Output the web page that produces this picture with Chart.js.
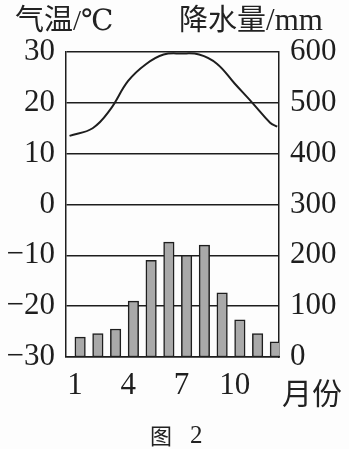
<!DOCTYPE html>
<html>
<head>
<meta charset="utf-8">
<script src="https://cdn.jsdelivr.net/npm/chart.js@4.4.1/dist/chart.umd.min.js"></script>
<style>
  html, body { margin: 0; padding: 0; background: #fdfdfd; }
  #wrap { position: relative; width: 349px; height: 449px; overflow: hidden; }
  canvas { position: absolute; left: 0; top: 0; }
  .lbl { position: absolute; color: #222; white-space: nowrap; line-height: 1; }
  .cjk { font-family: "Noto Sans CJK SC", sans-serif; }
  .ser { font-family: "Liberation Serif", "DejaVu Serif", serif; }
</style>
</head>
<body>
<div id="wrap">
  <canvas id="climateChart" width="349" height="449"></canvas>
  <div class="lbl" style="left:15px; top:3px; font-size:29px;"><span class="cjk">气温</span><span class="ser">/℃</span></div>
  <div class="lbl" style="left:179px; top:3px; font-size:29px;"><span class="cjk">降水量</span><span class="ser" style="font-size:31px;">/mm</span></div>
  <div class="lbl cjk" style="left:282px; top:376px; font-size:30px;">月份</div>
  <div class="lbl cjk" style="left:150px; top:423px; font-size:22px;">图</div>
  <div class="lbl ser" style="left:190px; top:422px; font-size:25px;">2</div>
</div>
<script>
// =========================
// Data
// =========================
const months = ['1', '2', '3', '4', '5', '6', '7', '8', '9', '10', '11', '12'];
const shownMonths = ['1', '4', '7', '10'];
const precipitation = [39, 46, 55, 110, 190, 226, 200, 220, 126, 73, 46, 30];

// temperature curve points (month position, °C)
const tempMonth = [0.7, 2, 3, 4, 5, 6, 7, 8, 9, 10, 11, 12, 12.4];
const temperature = [13.5, 15.0, 18.7, 24.3, 27.6, 29.5, 29.7, 29.5, 27.7, 23.8, 20.0, 16.1, 15.3];

const tempTicks = [-30, -20, -10, 0, 10, 20, 30];
const rainTicks = [0, 100, 200, 300, 400, 500, 600];

// =========================
// Chart
// =========================
const ink = '#1e1e1e';
const tickFont = { family: '"Liberation Serif", "DejaVu Serif", serif', size: 31 };

const ctx = document.getElementById('climateChart').getContext('2d');

new Chart(ctx, {
    data: {
        labels: months,
        datasets: [
            {
                type: 'line',
                label: '气温',
                data: tempMonth.map((m, i) => ({ x: m, y: temperature[i] })),
                xAxisID: 'xLine',
                yAxisID: 'yTemp',
                borderColor: ink,
                borderWidth: 2,
                pointRadius: 0,
                fill: false,
                tension: 0.4,
                order: 0
            },
            {
                type: 'bar',
                label: '降水量',
                data: precipitation,
                xAxisID: 'x',
                yAxisID: 'yRain',
                backgroundColor: '#a9a9a9',
                borderColor: ink,
                borderWidth: 1.5,
                borderSkipped: false,
                barThickness: 10.5,
                order: 1
            }
        ]
    },
    options: {
        responsive: false,
        animation: false,
        layout: { padding: { top: 52, bottom: 0, left: 0, right: 0 } },
        plugins: { legend: { display: false }, tooltip: { enabled: false } },
        scales: {
            x: {
                type: 'category',
                offset: true,
                grid: { display: false, drawTicks: false },
                border: { display: true, color: ink, width: 1.5 },
                ticks: {
                    color: ink,
                    font: tickFont,
                    padding: 10,
                    autoSkip: false,
                    maxRotation: 0,
                    callback: function (v) {
                        const l = this.getLabelForValue(v);
                        return shownMonths.includes(l) ? l : '';
                    }
                },
                afterFit: s => { s.height = 92; }
            },
            xLine: {
                type: 'linear',
                min: 0.5,
                max: 12.5,
                display: false
            },
            yTemp: {
                type: 'linear',
                position: 'left',
                min: -30,
                max: 30,
                afterBuildTicks: s => { s.ticks = tempTicks.map(v => ({ value: v })); },
                grid: { color: ink, lineWidth: 1.5, drawTicks: false },
                border: { display: true, color: ink, width: 1.5 },
                ticks: {
                    color: ink,
                    font: tickFont,
                    padding: 11,
                    callback: v => (v < 0 ? '\u2212' + Math.abs(v) : String(v))
                },
                afterFit: s => { s.width = 66; }
            },
            yRain: {
                type: 'linear',
                position: 'right',
                min: 0,
                max: 600,
                afterBuildTicks: s => { s.ticks = rainTicks.map(v => ({ value: v })); },
                grid: { display: false, drawTicks: false },
                border: { display: true, color: ink, width: 1.5 },
                ticks: { color: ink, font: tickFont, padding: 11 },
                afterFit: s => { s.width = 70; }
            }
        }
    }
});
</script>
</body>
</html>
